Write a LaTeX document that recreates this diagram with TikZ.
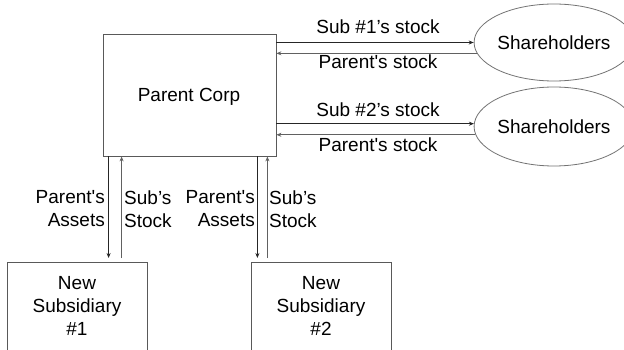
\documentclass[tikz,border=0pt]{standalone}
\usepackage{fontspec}
\newfontfamily\arialx{Liberation Sans}
\usetikzlibrary{arrows.meta,shapes.geometric}
\begin{document}
\begin{tikzpicture}[x=1pt,y=-1pt,
  every node/.style={font=\arialx\fontsize{19}{23}\selectfont, inner sep=0pt},
  boxc/.style={draw=black!65, line width=0.8pt, rectangle},
  ell/.style={draw=black!55, line width=0.8pt, ellipse, minimum width=136pt},
  fwd/.style={draw=black!85, line width=0.8pt, -{Stealth[length=5pt,width=4pt]}},
  bwd/.style={draw=black!62, line width=0.9pt, -{Stealth[length=5pt,width=4pt]}},
  lbl/.style={align=center}]
\clip (0,0) rectangle (624,350);
\fill[white] (0,0) rectangle (624,350);
% main nodes
\node[boxc, minimum width=173pt, minimum height=122pt] (p) at (189.5,95) {};
\node (pt) at (189,97) {Parent Corp};
\node[ell, minimum height=77pt] (e1) at (554,42.5) {Shareholders};
\node[ell, minimum height=79pt] (e2) at (554,126.5) {Shareholders};
\node[boxc, minimum width=140pt, minimum height=120pt, anchor=north] (s1) at (77,262) {};
\node[boxc, minimum width=140pt, minimum height=120pt, anchor=north] (s2) at (321,262) {};
\node[lbl] (s1t) at (77,306) {New\\Subsidiary\\\#1};
\node[lbl] (s2t) at (321,306) {New\\Subsidiary\\\#2};
% horizontal connectors
\draw[fwd] (p.east |- e1.west) -- (e1.west);
\draw[bwd] (e1.188) -- (p.east |- e1.188);
\draw[fwd] (p.east |- e2.178) -- (e2.178);
\draw[bwd] (e2.186) -- (p.east |- e2.186);
\node (l1) at (378,27) {Sub \#1’s stock};
\node (l2) at (378,62) {Parent's stock};
\node (l3) at (378,110) {Sub \#2’s stock};
\node (l4) at (378,145) {Parent's stock};
% vertical connectors
\draw[fwd, shorten >=4pt] ([xshift=6pt]p.south west) -- ([xshift=6pt]p.south west |- s1.north);
\draw[bwd, shorten <=4pt] ([xshift=19pt]p.south west |- s1.north) -- ([xshift=19pt]p.south west);
\draw[fwd, shorten >=4pt] ([xshift=-19pt]p.south east) -- ([xshift=-19pt]p.south east |- s2.north);
\draw[bwd, shorten <=4pt] ([xshift=-9pt]p.south east |- s2.north) -- ([xshift=-9pt]p.south east);
\node[align=right, anchor=east] (a1) at (105,209) {Parent's\\Assets};
\node[align=left, anchor=west] (b1) at (124,209) {Sub’s\\Stock};
\node[align=right, anchor=east] (a2) at (255,209) {Parent's\\Assets};
\node[align=left, anchor=west] (b2) at (269,209) {Sub’s\\Stock};
\end{tikzpicture}
\end{document}
